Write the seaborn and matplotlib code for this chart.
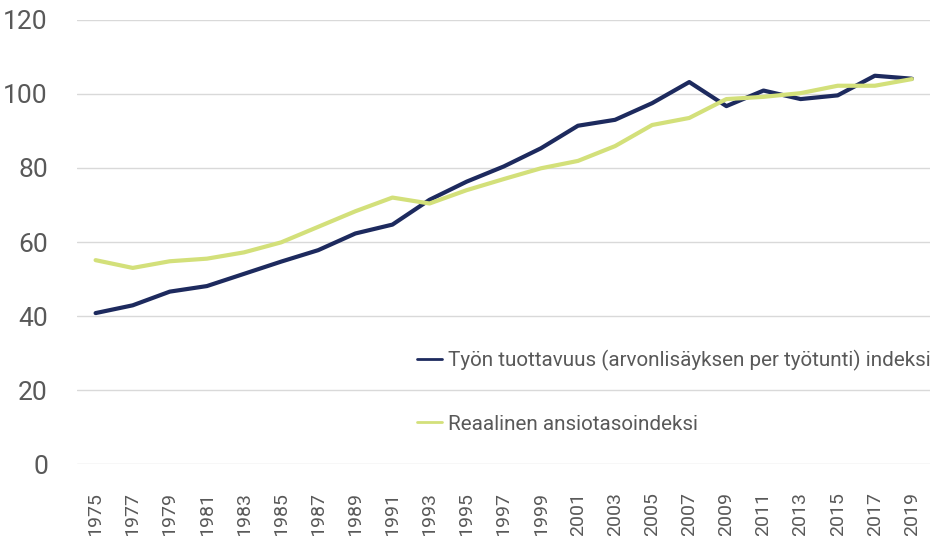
import matplotlib
matplotlib.use("Agg")
import matplotlib.pyplot as plt
import seaborn as sns
import pandas as pd

years = list(range(1975, 2020, 2))
tuottavuus = [40.8, 42.9, 46.6, 48.1, 51.4, 54.7, 57.8, 62.3, 64.7, 71.4, 76.3, 80.4,
              85.3, 91.4, 93.0, 97.5, 103.2, 96.7, 100.9, 98.6, 99.6, 104.9, 104.1]
ansiotaso = [55.1, 53.0, 54.8, 55.5, 57.2, 59.9, 64.1, 68.3, 72.0, 70.4, 74.0, 77.0,
             79.9, 81.9, 85.9, 91.6, 93.5, 98.6, 99.2, 100.2, 102.2, 102.2, 104.0]
labels = ["Työn tuottavuus (arvonlisäyksen per työtunti) indeksi",
          "Reaalinen ansiotasoindeksi"]
colors = ["#1d2a5e", "#d3e07a"]

df = pd.DataFrame({
    "Vuosi": years * 2,
    "Arvo": tuottavuus + ansiotaso,
    "Sarja": [labels[0]] * len(years) + [labels[1]] * len(years),
})

sns.set_theme(style="white")
plt.rcParams["font.family"] = ["Roboto", "DejaVu Sans"]

fig = plt.figure(figsize=(9.43, 5.36), dpi=100)
ax = fig.add_axes([0.0817, 0.134, 0.905, 0.829])

sns.lineplot(data=df, x="Vuosi", y="Arvo", hue="Sarja", palette=colors,
             linewidth=3, ax=ax, legend=True)

ax.set_xlim(1974, 2020)
ax.set_ylim(0, 120)
ax.set_yticks(range(0, 121, 20))
ax.set_xticks(years)
ax.set_xticklabels([str(y) for y in years], rotation=90)
ax.set_xlabel("")
ax.set_ylabel("")
ax.grid(axis="y", color="#d9d9d9", linewidth=1)
ax.grid(axis="x", visible=False)
ax.set_axisbelow(True)
for s in ax.spines.values():
    s.set_visible(False)
ax.tick_params(axis="y", length=0, pad=21, labelsize=19, labelcolor="#595959")
ax.tick_params(axis="x", length=0, pad=20, labelsize=14, labelcolor="#595959")

handles, lbls = ax.get_legend_handles_labels()
leg = ax.legend(handles, lbls, loc="upper left", bbox_to_anchor=(417 / 943, 1 - 350 / 536),
                bbox_transform=fig.transFigure, frameon=False, fontsize=14.9,
                handlelength=1.2, handletextpad=0.3, labelspacing=2.1, borderpad=0,
                borderaxespad=0)
for t in leg.get_texts():
    t.set_color("#595959")
for h in leg.get_lines():
    h.set_linewidth(2)

fig.savefig("out.png", dpi=100)
